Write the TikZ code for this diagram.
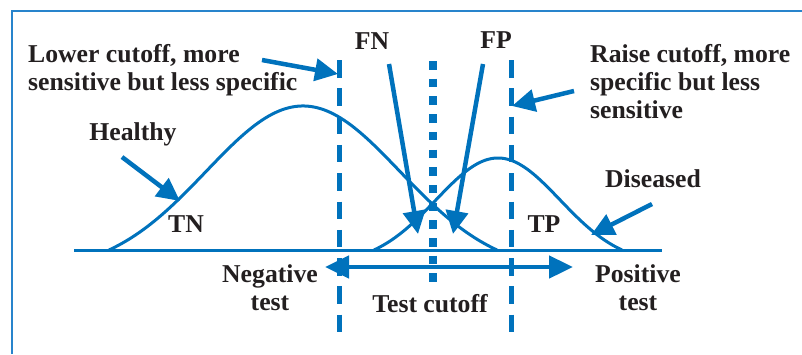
\documentclass[tikz,border=0pt]{standalone}
\usepackage{fontspec}
\setmainfont{Liberation Serif}
\usetikzlibrary{arrows.meta}
\definecolor{cblue}{RGB}{0,114,188}
\definecolor{fblue}{RGB}{40,132,204}
\definecolor{ctext}{RGB}{35,31,32}
\begin{document}
\begin{tikzpicture}[x=1pt,y=-1pt,
  lbl/.style={font=\fontsize{25.7}{28}\selectfont\bfseries, text=ctext, inner sep=0pt},
  curve/.style={cblue, line width=3pt},
  pointer/.style={cblue, line width=4.5pt, -{Triangle[length=23pt,width=22pt]}},
  bigarrow/.style={cblue, line width=4.7pt, {Triangle[length=24pt,width=22pt]}-{Triangle[length=24pt,width=22pt]}},
  dashline/.style={cblue, line width=5pt, dash pattern=on 17.5pt off 10.8pt},
  dotline/.style={cblue, line width=8.5pt, dash pattern=on 8.5pt off 9.2pt}
]
\useasboundingbox (0,0) rectangle (802,354);
% frame
\coordinate (fbl) at (12,354);
\coordinate (ftl) at (12,11);
\coordinate (ftr) at (802,11);
\draw[fblue, line width=2pt] (fbl) -- (ftl) -- (ftr);
% axis
\coordinate (axl) at (74,250);
\coordinate (axr) at (662,250);
\draw[cblue, line width=3pt] (axl) -- (axr);
% curves
\draw[curve] plot[domain=109:497, samples=120]
  (\x, {250 - 144*(exp(-0.5*((\x-303)/97)^2) - exp(-2))/(1-exp(-2))});
\draw[curve] plot[domain=374:622, samples=100]
  (\x, {250 - 92*(exp(-0.5*((\x-498)/62)^2) - exp(-2))/(1-exp(-2))});
% cutoff lines
\coordinate (lt) at (339,60);
\coordinate (lb) at (339,338);
\coordinate (mt) at (433,61);
\coordinate (mb) at (433,282);
\coordinate (rt) at (511,60);
\coordinate (rb) at (511,338);
\draw[dashline] (lt) -- (lb);
\draw[dotline] (mt) -- (mb);
\draw[dashline] (rt) -- (rb);
% labels (base anchor = baseline of last line)
\node[lbl, anchor=base west, align=left] (lower) at (28,90) {Lower cutoff, more\\sensitive but less specific};
\node[lbl, anchor=base west, align=left] (raise) at (590,118) {Raise cutoff, more\\specific but less\\sensitive};
\node[lbl, anchor=base] (fn) at (372,49) {FN};
\node[lbl, anchor=base] (fp) at (496,48) {FP};
\node[lbl, anchor=base] (healthy) at (133,140) {Healthy};
\node[lbl, anchor=base] (tn) at (186,232) {TN};
\node[lbl, anchor=base] (diseased) at (653,187) {Diseased};
\node[lbl, anchor=base] (tp) at (544,232) {TP};
\node[lbl, anchor=base, align=center] (neg) at (270,310) {Negative\\test};
\node[lbl, anchor=base, align=center] (pos) at (638,310) {Positive\\test};
\node[lbl, anchor=base] (tc) at (430,312) {Test cutoff};
% pointer arrows
\coordinate (a1s) at (262,60);  \coordinate (a1e) at (338,74);
\coordinate (a2s) at (574,91);  \coordinate (a2e) at (512,106);
\coordinate (a3s) at (122,157); \coordinate (a3e) at (180,201);
\coordinate (a4s) at (652,204); \coordinate (a4e) at (591,235);
\coordinate (a5s) at (389,64);  \coordinate (a5e) at (418,234);
\coordinate (a6s) at (483,64);  \coordinate (a6e) at (453,234);
\draw[pointer] (a1s) -- (a1e);
\draw[pointer] (a2s) -- (a2e);
\draw[pointer] (a3s) -- (a3e);
\draw[pointer] (a4s) -- (a4e);
\draw[pointer] (a5s) -- (a5e);
\draw[pointer] (a6s) -- (a6e);
% test direction arrow
\coordinate (dl) at (325,267);
\coordinate (dr) at (573,267);
\draw[bigarrow] (dl) -- (dr);
\end{tikzpicture}
\end{document}
